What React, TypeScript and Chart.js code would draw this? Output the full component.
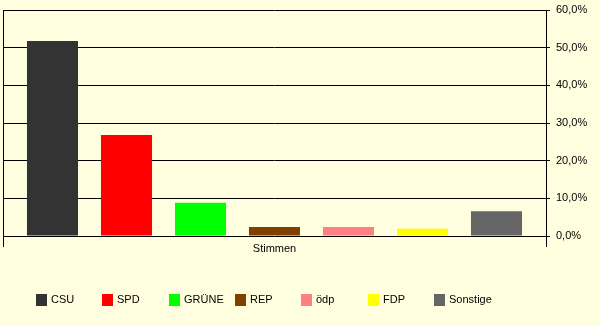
import React, { useEffect, useRef } from "react";
import { Chart, registerables } from "chart.js";

Chart.register(...registerables);

const categories = ["Stimmen"];
const parties = ["CSU", "SPD", "GRÜNE", "REP", "ödp", "FDP", "Sonstige"];
const shares = [51.8, 26.8, 8.8, 2.4, 2.4, 1.9, 6.6];
const colors = ["#333333", "#ff0000", "#00ff00", "#804000", "#ff8080", "#ffff00", "#666666"];
const yTicks = [0, 10, 20, 30, 40, 50, 60];

const BG = "#ffffe0";
const FONT = "'Liberation Sans', Arial, sans-serif";

const bgPlugin = {
  id: "bg",
  beforeDraw(chart: any) {
    const { ctx, width, height } = chart;
    ctx.save();
    ctx.fillStyle = BG;
    ctx.fillRect(0, 0, width, height);
    ctx.restore();
  },
};

const legendPlugin = {
  id: "fixedLegend",
  afterDraw(chart: any) {
    const { ctx } = chart;
    const startX = 36;
    const step = 66.3;
    const y = 294;
    ctx.save();
    ctx.font = `11px ${FONT}`;
    ctx.textBaseline = "middle";
    ctx.textAlign = "left";
    chart.data.datasets.forEach((ds: any, i: number) => {
      const x = Math.round(startX + i * step);
      ctx.fillStyle = ds.backgroundColor;
      ctx.fillRect(x, y, 11, 12);
      ctx.fillStyle = "#000";
      ctx.fillText(ds.label, x + 15, y + 6);
    });
    ctx.restore();
  },
};

export default function App() {
  const ref = useRef<HTMLCanvasElement>(null);
  useEffect(() => {
    document.body.style.margin = "0";
    const chart = new Chart(ref.current!, {
      type: "bar",
      data: {
        labels: categories,
        datasets: parties.map((p, i) => ({
          label: p,
          data: [shares[i]],
          backgroundColor: colors[i],
          borderWidth: 0,
          categoryPercentage: 0.954,
          barPercentage: 0.69,
        })),
      },
      options: {
        animation: false,
        responsive: false,
        maintainAspectRatio: false,
        layout: { padding: { left: 3, top: 10, right: 0, bottom: 0 } },
        plugins: { legend: { display: false }, tooltip: { enabled: false } },
        scales: {
          x: {
            offset: true,
            grid: {
              display: true,
              offset: true,
              color: "#000",
              lineWidth: 1,
              tickLength: 11,
              drawOnChartArea: true,
            },
            border: { display: false },
            ticks: { color: "#000", font: { family: FONT, size: 11 }, padding: -5 },
            afterFit(scale: any) {
              scale.height = 90;
            },
          },
          y: {
            position: "right",
            min: 0,
            max: 60,
            afterBuildTicks(scale: any) {
              scale.ticks = yTicks.map((v) => ({ value: v }));
            },
            grid: { color: "#000", lineWidth: 1, tickLength: 4 },
            border: { display: true, color: "#000" },
            ticks: {
              color: "#000",
              font: { family: FONT, size: 11 },
              padding: 6,
              callback: (v: any) => Number(v).toFixed(1).replace(".", ",") + "%",
            },
            afterFit(scale: any) {
              scale.width = 54;
              scale.paddingTop = 0;
              scale.paddingBottom = 0;
            },
          },
        },
      },
      plugins: [bgPlugin, legendPlugin],
    });
    return () => chart.destroy();
  }, []);
  return (
    <div style={{ width: 600, height: 326, background: BG }}>
      <canvas ref={ref} width={600} height={326} />
    </div>
  );
}
